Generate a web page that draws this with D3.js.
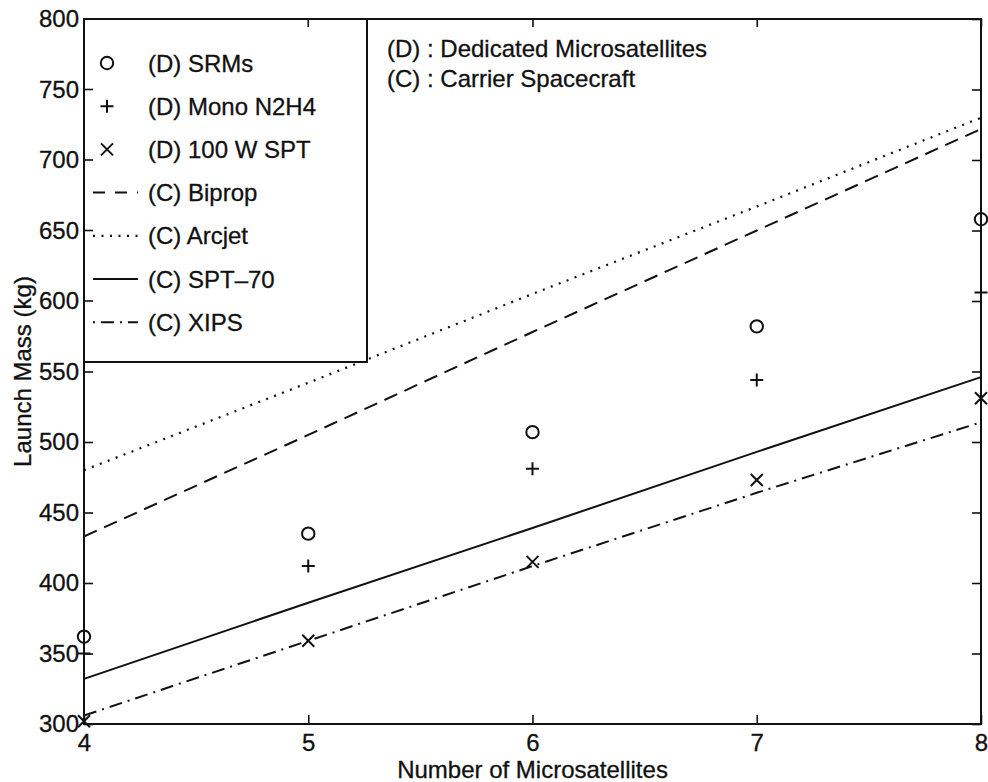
<!DOCTYPE html>
<html>
<head>
<meta charset="utf-8">
<script src="https://cdn.jsdelivr.net/npm/d3@7/dist/d3.min.js"></script>
<style>
  html, body { margin: 0; padding: 0; background: #fff; }
  svg { display: block; font-family: "Liberation Sans", Arial, Helvetica, sans-serif; }
  svg text { stroke: #111; stroke-width: 0.3px; }
</style>
</head>
<body>
<svg id="chart" width="988" height="782"></svg>
<script>
// Number of microsatellites on the x axis
const counts = [4, 5, 6, 7, 8];

// Dedicated microsatellites (markers only), launch mass in kg
const srms     = [362, 435, 507, 582, 658];
const monoN2H4 = [350, 412, 481, 544, 606];
const spt100W  = [302, 359, 415, 473, 531];

// Carrier spacecraft (lines), launch mass in kg
const biprop = [433, 505, 578, 650, 722];
const arcjet = [480, 542, 605, 667, 730];
const spt70  = [332, 386, 439, 493, 546];
const xips   = [306, 359, 412, 464, 514];

const xTicks = [4, 5, 6, 7, 8];
const yTicks = [300, 350, 400, 450, 500, 550, 600, 650, 700, 750, 800];

const svg = d3.select("#chart");
const plotL = 84, plotR = 981, plotT = 19, plotB = 724;

const x = d3.scaleLinear().domain([4, 8]).range([plotL, plotR]);
const y = d3.scaleLinear().domain([300, 800]).range([plotB, plotT]);

const FONT = 24;
const ink = "#111";

// Ticks on all four sides, pointing inward
function styleAxis(g) {
  g.select(".domain").remove();
  g.selectAll(".tick line").attr("stroke", ink).attr("stroke-width", 1.6);
  g.selectAll(".tick text").attr("fill", ink).attr("font-size", FONT)
    .attr("font-family", "Liberation Sans, Arial, sans-serif");
}

svg.append("g").attr("transform", `translate(0,${plotB})`)
  .call(d3.axisBottom(x).tickValues(xTicks).tickFormat(d3.format("d")).tickSize(-9).tickPadding(9.5))
  .call(styleAxis);
svg.append("g").attr("transform", `translate(0,${plotT})`)
  .call(d3.axisTop(x).tickValues(xTicks).tickFormat("").tickSize(-8))
  .call(styleAxis);
svg.append("g").attr("transform", `translate(${plotL},0)`)
  .call(d3.axisLeft(y).tickValues(yTicks).tickFormat(d3.format("d")).tickSize(-9).tickPadding(5))
  .call(styleAxis);
svg.append("g").attr("transform", `translate(${plotR},0)`)
  .call(d3.axisRight(y).tickValues(yTicks).tickFormat("").tickSize(-9))
  .call(styleAxis);

// Plot frame
svg.append("rect")
  .attr("x", plotL).attr("y", plotT)
  .attr("width", plotR - plotL).attr("height", plotB - plotT)
  .attr("fill", "none").attr("stroke", ink).attr("stroke-width", 2);

// Axis titles
svg.append("text")
  .attr("x", (plotL + plotR) / 2).attr("y", 778)
  .attr("text-anchor", "middle").attr("font-size", FONT).attr("fill", ink)
  .text("Number of Microsatellites");
svg.append("text")
  .attr("transform", `translate(31,${(plotT + plotB) / 2}) rotate(-90)`)
  .attr("text-anchor", "middle").attr("font-size", FONT).attr("fill", ink)
  .text("Launch Mass (kg)");

// Carrier spacecraft lines
const lineSeries = [
  { name: "(C) Biprop", values: biprop, dash: "14,8", legendDash: "12,10", width: 2 },
  { name: "(C) Arcjet", values: arcjet, dash: "2,6.5", legendDash: "2,6.5", width: 2.2 },
  { name: "(C) SPT-70", values: spt70, dash: null, legendDash: null, width: 2 },
  { name: "(C) XIPS",   values: xips,   dash: "13,6,2,6", legendDash: "2,6,13,6", width: 2 }
];

const line = d3.line().x((d, i) => x(counts[i])).y(d => y(d));

lineSeries.forEach(s => {
  svg.append("path")
    .datum(s.values)
    .attr("d", line)
    .attr("fill", "none")
    .attr("stroke", ink)
    .attr("stroke-width", s.width)
    .attr("stroke-dasharray", s.dash);
});

// Marker shapes
function drawMarker(g, kind, cx, cy) {
  if (kind === "circle") {
    g.append("circle").attr("cx", cx).attr("cy", cy).attr("r", 6.2)
      .attr("fill", "none").attr("stroke", ink).attr("stroke-width", 2);
  } else if (kind === "plus") {
    g.append("path")
      .attr("d", `M${cx - 6.5},${cy}H${cx + 6.5}M${cx},${cy - 6.5}V${cy + 6.5}`)
      .attr("stroke", ink).attr("stroke-width", 2);
  } else {
    g.append("path")
      .attr("d", `M${cx - 6},${cy - 6}L${cx + 6},${cy + 6}M${cx - 6},${cy + 6}L${cx + 6},${cy - 6}`)
      .attr("stroke", ink).attr("stroke-width", 2);
  }
}

const markerSeries = [
  { name: "(D) SRMs",      values: srms,     kind: "circle" },
  { name: "(D) Mono N2H4", values: monoN2H4, kind: "plus" },
  { name: "(D) 100 W SPT", values: spt100W,  kind: "cross" }
];

const marks = svg.append("g");
markerSeries.forEach(s => {
  s.values.forEach((v, i) => drawMarker(marks, s.kind, x(counts[i]), y(v)));
});

// Legend
const lg = svg.append("g");
lg.append("rect")
  .attr("x", plotL).attr("y", plotT).attr("width", 283).attr("height", 343)
  .attr("fill", "#fff").attr("stroke", ink).attr("stroke-width", 2);

// Inward left/top ticks remain visible through the legend
lg.selectAll("line.ltick").data(yTicks.filter(v => y(v) < plotT + 343)).join("line")
  .attr("x1", plotL).attr("x2", plotL + 9)
  .attr("y1", d => y(d)).attr("y2", d => y(d))
  .attr("stroke", ink).attr("stroke-width", 1.6);
lg.selectAll("line.ttick").data(xTicks.filter(v => x(v) < plotL + 283)).join("line")
  .attr("x1", d => x(d)).attr("x2", d => x(d))
  .attr("y1", plotT).attr("y2", plotT + 8)
  .attr("stroke", ink).attr("stroke-width", 1.6);

const legendItems = [
  ...markerSeries.map(s => ({ name: s.name, kind: s.kind })),
  ...lineSeries.map(s => ({ name: s.name, dash: s.legendDash, width: s.width, isLine: true }))
];

legendItems.forEach((d, i) => {
  const cy = 63 + i * 43.2;
  if (d.isLine) {
    lg.append("line")
      .attr("x1", 93).attr("x2", 138).attr("y1", cy).attr("y2", cy)
      .attr("stroke", ink).attr("stroke-width", d.width)
      .attr("stroke-dasharray", d.dash);
  } else {
    drawMarker(lg, d.kind, 107, cy);
  }
  lg.append("text")
    .attr("x", 148).attr("y", cy).attr("dy", "0.36em")
    .attr("font-size", FONT).attr("fill", ink)
    .text(d.name.replace("-", "\u2013"));
});

// Key to the (D) / (C) prefixes
svg.append("text").attr("x", 387).attr("y", 48).attr("dy", "0.36em")
  .attr("font-size", FONT).attr("fill", ink)
  .text("(D) : Dedicated Microsatellites");
svg.append("text").attr("x", 387).attr("y", 78).attr("dy", "0.36em")
  .attr("font-size", FONT).attr("fill", ink)
  .text("(C) : Carrier Spacecraft");
</script>
</body>
</html>
